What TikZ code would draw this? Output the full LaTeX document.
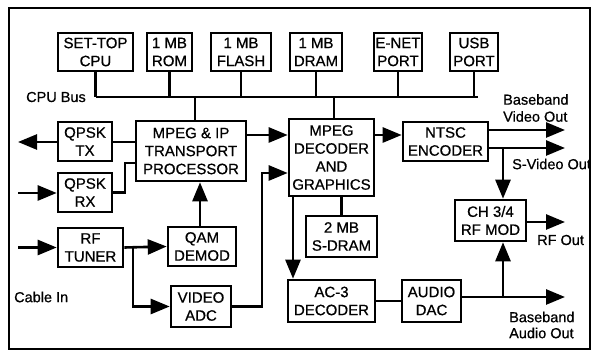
\documentclass[tikz,border=0pt]{standalone}
\usepackage{fontspec}
\setmainfont{Liberation Sans}[FakeBold=0.7]
\usetikzlibrary{arrows.meta}
\begin{document}
\begin{tikzpicture}[x=1pt,y=-1pt,
  blk/.style={draw, line width=2.6pt, inner sep=0pt, align=center,
    font=\fontsize{15}{18}\selectfont},
  wire/.style={line width=2.6pt},
  arr/.style={line width=2.6pt, -{Triangle[length=19pt,width=15pt]}},
  busline/.style={line width=2.2pt},
  lbl/.style={inner sep=0pt, align=left, font=\fontsize{14.5}{17}\selectfont}]
\useasboundingbox (0,0) rectangle (592,352);
\draw[line width=2pt] (9,8) rectangle (590,349);
% top row
\node[blk, minimum width=75pt, minimum height=38pt] (cpu) at (95.5,52) {SET-TOP\\CPU};
\node[blk, minimum width=45pt, minimum height=38pt] (rom) at (169.5,52) {1 MB\\ROM};
\node[blk, minimum width=60pt, minimum height=38pt] (flash) at (241,52) {1 MB\\FLASH};
\node[blk, minimum width=52pt, minimum height=38pt] (dram) at (316,52) {1 MB\\DRAM};
\node[blk, minimum width=48pt, minimum height=38pt] (enet) at (398,52) {E-NET\\PORT};
\node[blk, minimum width=48pt, minimum height=38pt] (usb) at (474,52) {USB\\PORT};
% other blocks
\node[blk, minimum width=54pt, minimum height=39pt] (tx) at (85,141.5) {QPSK\\TX};
\node[blk, minimum width=54pt, minimum height=39pt] (rx) at (85,192.5) {QPSK\\RX};
\node[blk, minimum width=110pt, minimum height=60pt] (tp) at (191,151) {MPEG \& IP\\TRANSPORT\\PROCESSOR};
\node[blk, minimum width=85pt, minimum height=77pt] (dec) at (331.5,157.5) {MPEG\\DECODER\\AND\\GRAPHICS};
\node[blk, minimum width=85pt, minimum height=39pt] (ntsc) at (445.5,141.5) {NTSC\\ENCODER};
\node[blk, minimum width=71pt, minimum height=41pt] (sdram) at (341.5,236.5) {2 MB\\S-DRAM};
\node[blk, minimum width=71pt, minimum height=41pt] (rfmod) at (490.5,220.5) {CH 3/4\\RF MOD};
\node[blk, minimum width=87pt, minimum height=42pt] (ac3) at (331.5,301) {AC-3\\DECODER};
\node[blk, minimum width=59pt, minimum height=42pt] (dac) at (431.5,301) {AUDIO\\DAC};
\node[blk, minimum width=65pt, minimum height=39pt] (tuner) at (90.5,247.5) {RF\\TUNER};
\node[blk, minimum width=68pt, minimum height=39pt] (qam) at (202,246.5) {QAM\\DEMOD};
\node[blk, minimum width=60pt, minimum height=41pt] (adc) at (201,306.5) {VIDEO\\ADC};
% coordinates
\coordinate (busy) at (0,97);
\coordinate (row) at (0,135);
\coordinate (txout) at (18,142);
\coordinate (rxin) at (18,193);
\coordinate (tunin) at (18,247.5);
\coordinate (rxj) at (125,163);
\coordinate (tj) at (133,247.5);
\coordinate (aj) at (262,173);
\coordinate (vo) at (565,130);
\coordinate (so) at (565,148);
\coordinate (sj) at (503,148);
\coordinate (rfo) at (565,222);
\coordinate (ao) at (565,297);
\coordinate (auj) at (503,297);
\coordinate (dj) at (293,0);
\coordinate (busend) at (478,97);
% CPU bus
\draw[busline] (cpu.south |- busy) -- (busend);
\foreach \b in {cpu,rom,flash,dram,enet,usb}
  \draw[wire] (\b.south) -- (\b.south |- busy);
\draw[wire] ([xshift=4pt]tp.north |- busy) -- ([xshift=4pt]tp.north);
\draw[wire] ([xshift=2.5pt]dec.north |- busy) -- ([xshift=2.5pt]dec.north);
% left side
\draw[arr] (tx.west |- txout) -- (txout);
\draw[wire] (tx.east |- txout) -- (tp.west |- txout);
\draw[wire] (rx.east) -| (rxj) -- (rxj -| tp.west);
\draw[arr] (rxin) -- (rxin -| rx.west);
\draw[arr] (tunin) -- (tunin -| tuner.west);
\draw[arr] (tuner.east) -- (qam.west);
\draw[arr] (tj) |- (adc.west);
\draw[arr] ([xshift=-2pt]qam.north) -- ([xshift=-2pt]qam.north |- tp.south);
\draw[arr] (adc.east) -| (aj) -- (aj -| dec.west);
\draw[arr] (tp.east |- row) -- (dec.west |- row);
% right side
\draw[arr] (dec.east |- row) -- (ntsc.west |- row);
\draw[arr] (ntsc.east |- vo) -- (vo);
\draw[arr] (ntsc.east |- so) -- (so);
\draw[arr] (sj) -- (sj |- rfmod.north);
\draw[arr] (rfmod.east |- rfo) -- (rfo);
\draw[arr] (dj |- dec.south) -- (dj |- ac3.north);
\draw[wire] (sdram.north) -- (sdram.north |- dec.south);
\draw[wire] (ac3) -- (dac);
\draw[arr] (dac.east |- ao) -- (ao);
\draw[arr] (auj) -- (auj |- rfmod.south);
% labels
\node[lbl, anchor=east] (lbus) at (86,97) {CPU Bus};
\node[lbl, anchor=west] (lvid) at (503,108) {Baseband\\Video Out};
\node[lbl, anchor=west] (lsv) at (512,164) {S-Video Out};
\node[lbl, anchor=west] (lrf) at (537,240) {RF Out};
\node[lbl, anchor=west, font=\fontsize{14.5}{16}\selectfont] (lau) at (509,325) {Baseband\\Audio Out};
\node[lbl, anchor=west] (lcab) at (14,297) {Cable In};
\end{tikzpicture}
\end{document}
